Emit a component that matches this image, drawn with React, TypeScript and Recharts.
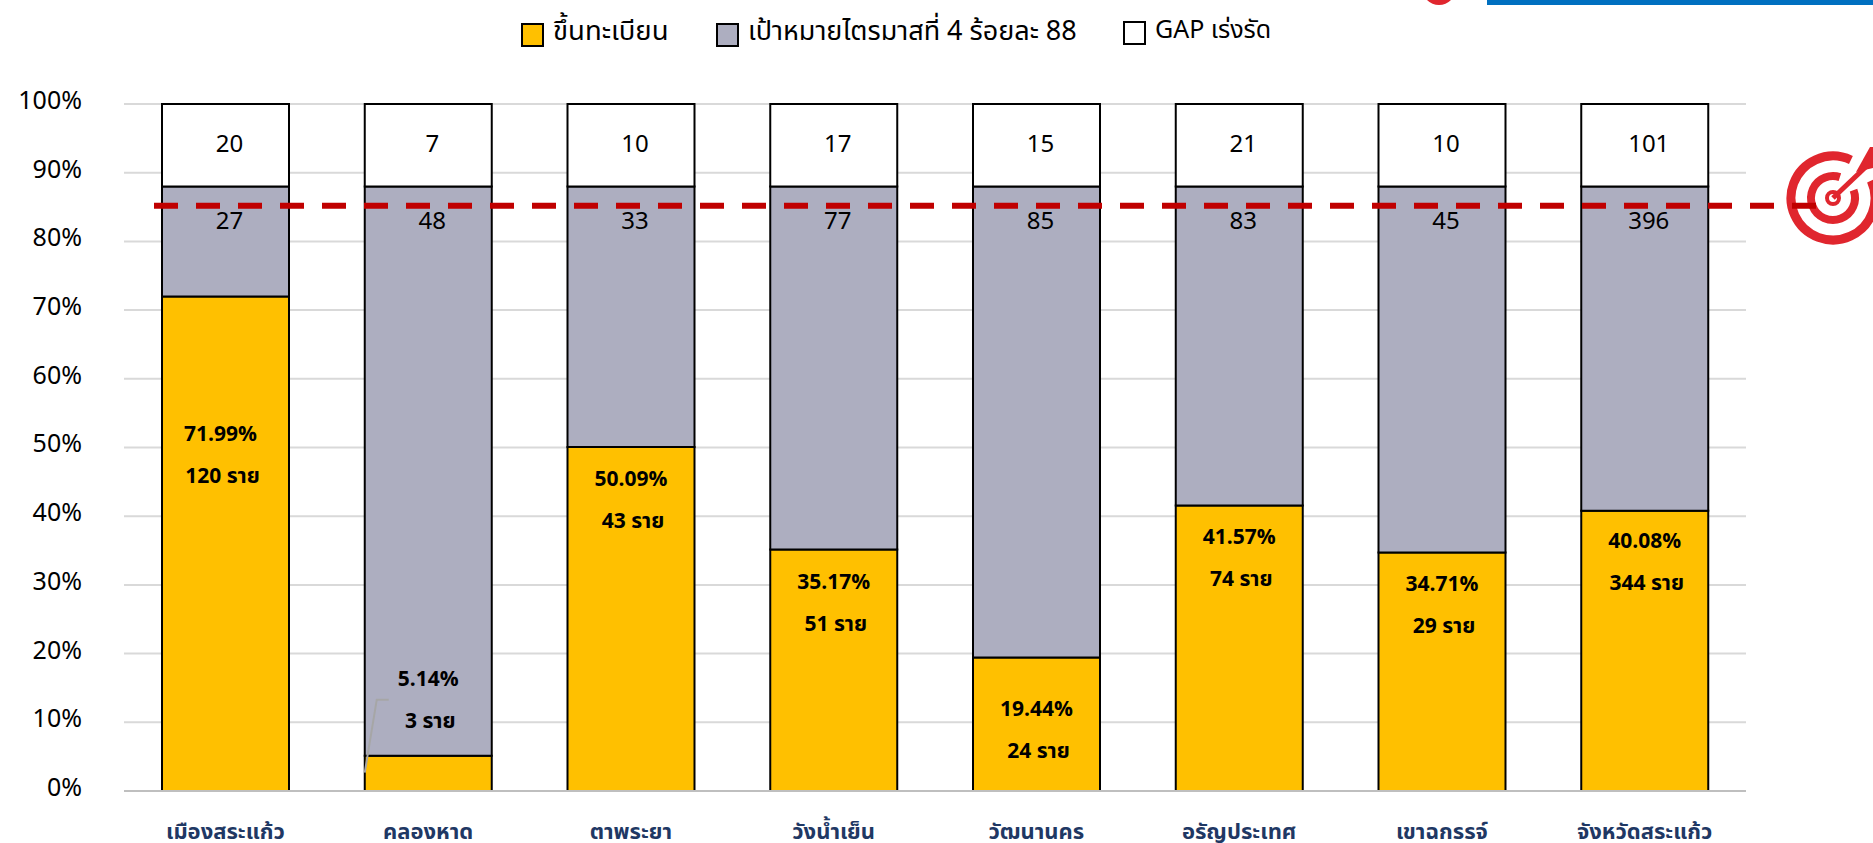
import { BarChart, Bar, XAxis, YAxis, CartesianGrid, Legend, LabelList, ReferenceLine } from 'recharts';

const districts = ['เมืองสระแก้ว', 'คลองหาด', 'ตาพระยา', 'วังน้ำเย็น', 'วัฒนานคร', 'อรัญประเทศ', 'เขาฉกรรจ์', 'จังหวัดสระแก้ว'];
const registeredPct = [71.99, 5.14, 50.09, 35.17, 19.44, 41.57, 34.71, 40.08];
// the last bar is drawn a little taller than its printed 40.08 in the source
const registeredHeight = [71.99, 5.14, 50.09, 35.17, 19.44, 41.57, 34.71, 40.8];
const targetHeight = [16.01, 82.86, 37.91, 52.83, 68.56, 46.43, 53.29, 47.2];
const gapHeight = [12, 12, 12, 12, 12, 12, 12, 12];
const registeredCount = [120, 3, 43, 51, 24, 74, 29, 344];
const targetCount = [27, 48, 33, 77, 85, 83, 45, 396];
const gapCount = [20, 7, 10, 17, 15, 21, 10, 101];
const yTicks = [0, 10, 20, 30, 40, 50, 60, 70, 80, 90, 100];
const targetLine = 85.2;

// where the excel-style labels sit, px down from top of the yellow segment
const labelDrop = [139, -76, 33, 34, 53, 33, 33, 31];
const labelShift = [-5, 0, 0, 0, 0, 0, 0, 0];

const chartData = districts.map((name, i) => ({
    name,
    registered: registeredHeight[i],
    target: targetHeight[i],
    gap: gapHeight[i],
}));

const FONT = 'Tahoma, "Noto Sans Thai", "Noto Sans", "Open Sans", sans-serif';

const legendItems = [
    { label: 'ขึ้นทะเบียน', color: '#FFC000', x: 521, size: 27.5 },
    { label: 'เป้าหมายไตรมาสที่ 4 ร้อยละ 88', color: '#ADAEC0', x: 716, size: 27 },
    { label: 'GAP เร่งรัด', color: '#FFFFFF', x: 1123, size: 25 },
];

const ChartLegend = () => (
    <div style={{ position: 'relative', width: 1873, height: 50, fontFamily: FONT }}>
        {legendItems.map((item) => (
            <div key={item.label} style={{ position: 'absolute', left: item.x, top: 11, display: 'flex', alignItems: 'center', whiteSpace: 'nowrap' }}>
                <span style={{ width: 19, height: 20, background: item.color, border: '2px solid #000', display: 'inline-block', marginRight: 9, marginTop: 6 }} />
                <span style={{ fontSize: item.size, color: '#000' }}>{item.label}</span>
            </div>
        ))}
    </div>
);

const YTick = ({ x, y, payload }: any) => (
    <text x={x} y={y - 2} textAnchor="end" dominantBaseline="middle" fontSize={25} fontFamily={FONT} fill="#000">
        {payload.value}%
    </text>
);

const XTick = ({ x, y, payload }: any) => (
    <text x={x} y={y} textAnchor="middle" dominantBaseline="middle" fontSize={22} fontWeight={700} fontFamily={FONT} fill="#1F3864">
        {payload.value}
    </text>
);

const CountLabel = ({ x, y, width, index, counts, drop }: any) => (
    <text x={x + width / 2 + 4} y={y + drop} textAnchor="middle" dominantBaseline="middle" fontSize={24} fontFamily={FONT} fill="#000">
        {counts[index]}
    </text>
);

const RegisteredLabel = ({ x, y, width, index }: any) => {
    const cx = x + width / 2 + labelShift[index];
    const top = y + labelDrop[index];
    return (
        <g>
            {index === 1 && (
                <polyline points={`${x},${y + 17} ${x + 12},${y - 56} ${x + 24},${y - 56}`} fill="none" stroke="#A6A6A6" strokeWidth={2} />
            )}
            <text x={cx} y={top} textAnchor="middle" dominantBaseline="middle" fontSize={21} fontWeight={700} fontFamily={FONT} fill="#000">
                {registeredPct[index].toFixed(2)}%
            </text>
            <text x={cx + 2} y={top + 42} textAnchor="middle" dominantBaseline="middle" fontSize={21} fontWeight={700} fontFamily={FONT} fill="#000">
                {registeredCount[index]} ราย
            </text>
        </g>
    );
};

// the target line runs past the plot on both sides, out to the icon
const TargetLine = ({ y1 }: any) => (
    <line x1={154} x2={1816} y1={y1} y2={y1} stroke="#C00000" strokeWidth={6} strokeDasharray="24 18" />
);

const TargetIcon = () => (
    <svg width={1873} height={843} style={{ position: 'absolute', left: 0, top: 0 }}>
        <g fill="none" stroke="#E0262E">
            <circle cx={1833} cy={198} r={42} strokeWidth={9} strokeDasharray="234 30" transform="rotate(-24.5 1833 198)" />
            <circle cx={1833} cy={198} r={22} strokeWidth={8} strokeDasharray="118 20" transform="rotate(-21 1833 198)" />
            <circle cx={1833} cy={198} r={6} strokeWidth={4} />
        </g>
        <path d="M1833 198 L1873 160" stroke="#E0262E" strokeWidth={5} />
        <path d="M1856 172 L1870 147 L1873 147 L1873 168 Z" fill="#E0262E" />
        <circle cx={1439} cy={-12} r={17} fill="#E0262E" />
        <rect x={1487} y={0} width={386} height={5} fill="#0070C0" />
    </svg>
);

export default function App() {
    return (
        <div style={{ position: 'absolute', left: 0, top: 0, width: 1873, height: 843, overflow: 'hidden', background: '#fff' }}>
            <TargetIcon />
            <BarChart
                width={1873}
                height={843}
                data={chartData}
                margin={{ top: 54, right: 127, left: 0, bottom: 0 }}
                barSize={127}
            >
                <Legend verticalAlign="top" content={<ChartLegend />} wrapperStyle={{ left: 0, top: 0, width: 1873 }} />
                <CartesianGrid vertical={false} stroke="#D9D9D9" strokeWidth={2} />
                <XAxis dataKey="name" tick={<XTick />} tickLine={false} axisLine={{ stroke: '#BFBFBF', strokeWidth: 2 }} interval={0} height={52} tickMargin={36} />
                <YAxis type="number" domain={[0, 100]} ticks={yTicks} tick={<YTick />} tickLine={false} axisLine={false} width={124} tickMargin={36} interval={0} />
                <Bar dataKey="registered" stackId="a" fill="#FFC000" stroke="#000" strokeWidth={2} isAnimationActive={false}>
                    <LabelList content={<RegisteredLabel />} />
                </Bar>
                <Bar dataKey="target" stackId="a" fill="#ADAEC0" stroke="#000" strokeWidth={2} isAnimationActive={false}>
                    <LabelList content={<CountLabel counts={targetCount} drop={36} />} />
                </Bar>
                <Bar dataKey="gap" stackId="a" fill="#FFFFFF" stroke="#000" strokeWidth={2} isAnimationActive={false}>
                    <LabelList content={<CountLabel counts={gapCount} drop={41} />} />
                </Bar>
                <ReferenceLine y={targetLine} ifOverflow="visible" shape={<TargetLine />} />
            </BarChart>
        </div>
    );
}
